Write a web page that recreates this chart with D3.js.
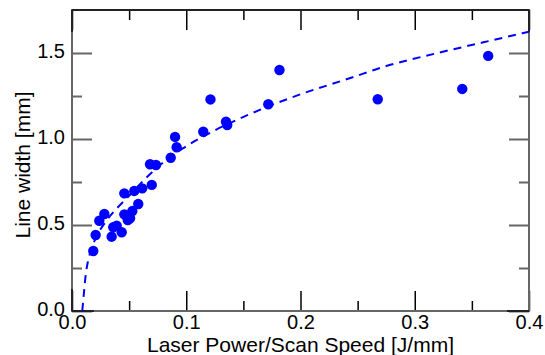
<!DOCTYPE html>
<html lang="en">
<head>
<meta charset="UTF-8"/>
<title>Line width vs energy density</title>
<script src="https://d3js.org/d3.v7.min.js"></script>
<style>
  body { margin: 0; background: #fff; }
  text { font-family: "Liberation Sans", Arial, sans-serif; }
</style>
</head>
<body>
<script>
var w = 545;
var h = 355;

// measured points (energy density J/mm, line width mm)
var energy = [0.0186, 0.0207, 0.0239, 0.0283, 0.0347, 0.0361, 0.0391, 0.0435,
              0.0458, 0.0488, 0.0508, 0.0528, 0.0458, 0.0545, 0.0580, 0.0615,
              0.0698, 0.0683, 0.0735, 0.0864, 0.0916, 0.0902, 0.1149, 0.1212,
              0.1348, 0.1359, 0.1718, 0.1816, 0.2676, 0.3416, 0.3643];
var lineWidth = [0.349, 0.442, 0.525, 0.564, 0.432, 0.487, 0.496, 0.458,
                 0.562, 0.529, 0.539, 0.581, 0.684, 0.698, 0.622, 0.713,
                 0.733, 0.853, 0.849, 0.891, 0.952, 1.012, 1.042, 1.230,
                 1.101, 1.081, 1.202, 1.401, 1.231, 1.291, 1.483];

// fitted curve
var fitX = [0.009, 0.0105, 0.012, 0.014, 0.017, 0.022, 0.029, 0.039, 0.05, 0.065,
            0.08, 0.097, 0.122, 0.154, 0.2, 0.243, 0.273, 0.32, 0.36, 0.4];
var fitY = [0.0, 0.11, 0.21, 0.29, 0.36, 0.44, 0.515, 0.595, 0.67, 0.775,
            0.865, 0.945, 1.04, 1.14, 1.26, 1.353, 1.42, 1.5, 1.562, 1.624];

var xMajor = [0, 0.1, 0.2, 0.3, 0.4];
var xMinor = [0.05, 0.15, 0.25, 0.35];
var yMajor = [0, 0.5, 1.0, 1.5];
var yMinor = [0.25, 0.75, 1.25];

var pLeft = 72, pRight = 529, pTop = 10, pBottom = 311;
var tickFs = "20px", titleFs = "21px";

var xScale = d3.scaleLinear().domain([0, 0.4]).range([pLeft, pRight]);
var yScale = d3.scaleLinear().domain([0, 1.75]).range([pBottom, pTop]);

var svg = d3.select("body").append("svg")
    .attr("width", w)
    .attr("height", h);

var fmt = d3.format(".1f");

function styleAxis(g, col, sw) {
    g.select(".domain").remove();
    g.selectAll(".tick line").attr("stroke", col).attr("stroke-width", sw);
    g.selectAll("text").attr("font-size", tickFs).attr("fill", "#000")
        .attr("font-family", "Liberation Sans, Arial, sans-serif");
}

// bottom
svg.append("g").attr("transform", "translate(0," + pBottom + ")")
    .call(d3.axisBottom(xScale).tickValues(xMajor).tickSize(-20).tickPadding(4).tickFormat(fmt))
    .call(styleAxis, "#000", 1.5);
svg.append("g").attr("transform", "translate(0," + pBottom + ")")
    .call(d3.axisBottom(xScale).tickValues(xMinor).tickSize(-10).tickFormat(""))
    .call(styleAxis, "#000", 1.5);
// top
svg.append("g").attr("transform", "translate(0," + pTop + ")")
    .call(d3.axisTop(xScale).tickValues(xMajor).tickSize(-20).tickFormat(""))
    .call(styleAxis, "#000", 1.5);
svg.append("g").attr("transform", "translate(0," + pTop + ")")
    .call(d3.axisTop(xScale).tickValues(xMinor).tickSize(-10).tickFormat(""))
    .call(styleAxis, "#000", 1.5);
// left
svg.append("g").attr("transform", "translate(" + pLeft + ",0)")
    .call(d3.axisLeft(yScale).tickValues(yMajor).tickSize(-20).tickPadding(7).tickFormat(fmt))
    .call(styleAxis, "#666", 2)
    .selectAll("text").attr("dy", "0.22em");
svg.append("g").attr("transform", "translate(" + pLeft + ",0)")
    .call(d3.axisLeft(yScale).tickValues(yMinor).tickSize(-10).tickFormat(""))
    .call(styleAxis, "#666", 2);
// right
svg.append("g").attr("transform", "translate(" + pRight + ",0)")
    .call(d3.axisRight(yScale).tickValues(yMajor).tickSize(-20).tickFormat(""))
    .call(styleAxis, "#666", 2);
svg.append("g").attr("transform", "translate(" + pRight + ",0)")
    .call(d3.axisRight(yScale).tickValues(yMinor).tickSize(-10).tickFormat(""))
    .call(styleAxis, "#666", 2);

// frame
svg.append("rect")
    .attr("x", pLeft).attr("y", pTop)
    .attr("width", pRight - pLeft).attr("height", pBottom - pTop)
    .attr("fill", "none").attr("stroke", "#666").attr("stroke-width", 2);
svg.append("line")
    .attr("x1", pLeft).attr("x2", pRight).attr("y1", pTop).attr("y2", pTop)
    .attr("stroke", "#222").attr("stroke-width", 2);
// darker corner pieces
var corner = 22;
[[pLeft, pBottom, pLeft, pBottom - corner], [pLeft, pBottom, pLeft + corner, pBottom],
 [pLeft, pTop, pLeft, pTop + corner], [pRight, pTop, pRight, pTop + corner],
 [pRight, pBottom, pRight - corner, pBottom]].forEach(function(s) {
    svg.append("line")
        .attr("x1", s[0]).attr("y1", s[1]).attr("x2", s[2]).attr("y2", s[3])
        .attr("stroke", "#222").attr("stroke-width", 2);
});

// fit line
var fit = fitX.map(function(d, i) { return [d, fitY[i]]; });
svg.append("path")
    .datum(fit)
    .attr("fill", "none")
    .attr("stroke", "#0000ff")
    .attr("stroke-width", 2)
    .attr("stroke-dasharray", "8,6")
    .attr("d", d3.line()
        .x(function(d) { return xScale(d[0]); })
        .y(function(d) { return yScale(d[1]); })
        .curve(d3.curveMonotoneX));

// points
svg.selectAll("circle")
    .data(energy)
    .enter()
    .append("circle")
    .attr("cx", function(d) { return xScale(d); })
    .attr("cy", function(d, i) { return yScale(lineWidth[i]); })
    .attr("r", 5.2)
    .attr("fill", "#0000ff");

// axis titles
svg.append("text")
    .attr("x", (pLeft + pRight) / 2)
    .attr("y", 352)
    .attr("text-anchor", "middle")
    .attr("font-size", titleFs)
    .text("Laser Power/Scan Speed [J/mm]");

svg.append("text")
    .attr("transform", "translate(30,165) rotate(-90)")
    .attr("text-anchor", "middle")
    .attr("font-size", titleFs)
    .text("Line width [mm]");
</script>
</body>
</html>
